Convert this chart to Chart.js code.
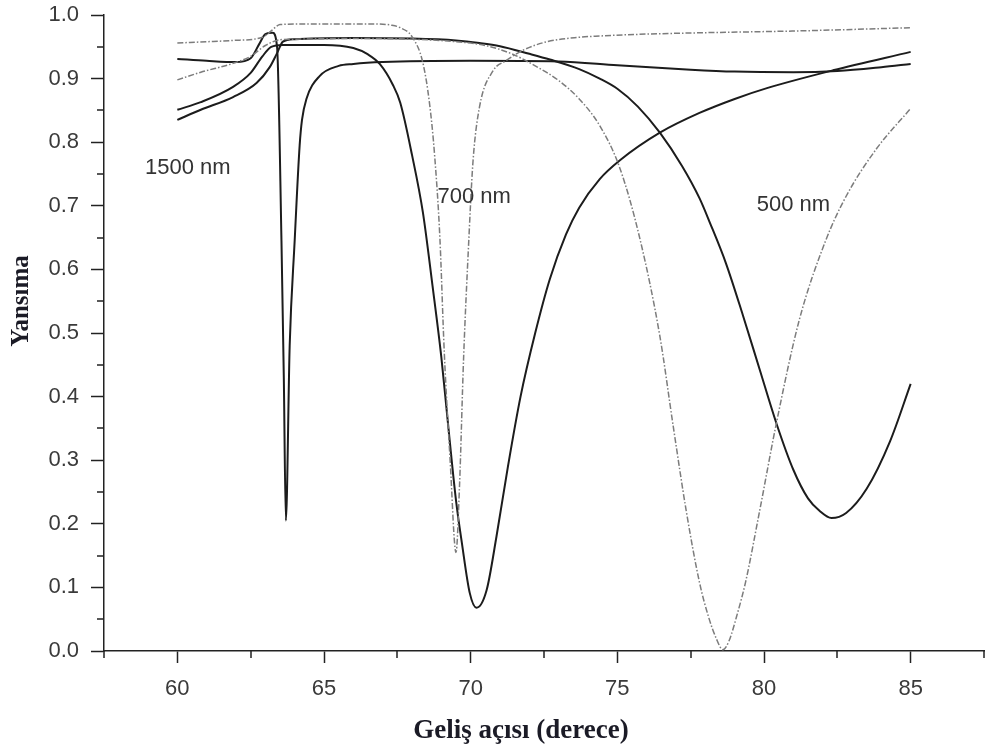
<!DOCTYPE html>
<html>
<head>
<meta charset="utf-8">
<script src="https://cdn.jsdelivr.net/npm/chart.js@4.4.1/dist/chart.umd.min.js"></script>
<style>
  html, body { margin: 0; padding: 0; background: #fff; }
  #wrap { width: 988px; height: 751px; }
</style>
</head>
<body>
<div id="wrap"><canvas id="reflChart" width="988" height="751"></canvas></div>
<script>
// Reflectance vs. angle of incidence

// solid curves
const s1500Angle = [60, 61, 62, 62.5, 62.8, 63.0, 63.25, 63.4, 63.55, 63.63, 63.7, 63.83, 64.0, 64.17, 64.25, 64.4, 64.85, 65.5, 66, 67, 70, 73, 75, 77.5, 79, 81, 82.5, 84, 85];
const s1500Refl  = [0.931, 0.928, 0.926, 0.932, 0.955, 0.970, 0.972, 0.950, 0.645, 0.430, 0.205, 0.480, 0.645, 0.795, 0.835, 0.868, 0.904, 0.920, 0.923, 0.926, 0.928, 0.927, 0.921, 0.914, 0.911, 0.910, 0.912, 0.918, 0.923];

const s700Angle = [60, 60.8, 61.9, 62.5, 62.9, 63.2, 63.6, 65, 66, 66.5, 66.9, 67.35, 67.6, 68.0, 68.37, 68.7, 69.0, 69.2, 69.5, 69.7, 69.97, 70.2, 70.54, 70.88, 71.27, 71.7, 72.2, 72.7, 73.25, 73.7, 74.4, 75.1, 76.45, 77.8, 79.0, 80.1, 82.35, 85];
const s700Refl  = [0.851, 0.863, 0.887, 0.909, 0.935, 0.950, 0.953, 0.953, 0.948, 0.938, 0.923, 0.890, 0.862, 0.780, 0.690, 0.574, 0.462, 0.370, 0.237, 0.170, 0.091, 0.068, 0.095, 0.180, 0.290, 0.400, 0.500, 0.585, 0.655, 0.697, 0.742, 0.772, 0.815, 0.846, 0.868, 0.885, 0.913, 0.942];

const s500Angle = [60, 60.8, 61.9, 62.7, 63.15, 63.4, 63.6, 64, 66, 68, 69.5, 70.3, 71, 72, 72.7, 73.7, 74.4, 75, 75.7, 76.45, 77.2, 77.8, 78.15, 78.7, 79.28, 79.85, 80.43, 81.0, 81.5, 81.9, 82.3, 82.8, 83.5, 84.3, 85];
const s500Refl  = [0.835, 0.851, 0.871, 0.893, 0.918, 0.940, 0.958, 0.962, 0.964, 0.963, 0.960, 0.956, 0.951, 0.939, 0.930, 0.915, 0.900, 0.884, 0.856, 0.815, 0.763, 0.712, 0.674, 0.610, 0.528, 0.443, 0.357, 0.285, 0.240, 0.220, 0.209, 0.217, 0.255, 0.330, 0.420];

// dash-dot curves
const d700Angle = [60, 61, 61.9, 62.9, 63.2, 63.4, 63.5, 65, 66.7, 67.3, 67.6, 68.0, 68.37, 68.6, 68.77, 68.95, 69.1, 69.3, 69.5, 69.62, 69.76, 69.92, 70.08, 70.3, 70.76, 71.2, 71.8, 72.6, 73.7, 74.4, 76, 77.8, 81.2, 85];
const d700Refl  = [0.956, 0.958, 0.960, 0.965, 0.975, 0.983, 0.985, 0.986, 0.986, 0.984, 0.980, 0.966, 0.925, 0.860, 0.780, 0.650, 0.470, 0.300, 0.155, 0.260, 0.462, 0.630, 0.770, 0.855, 0.912, 0.928, 0.945, 0.958, 0.965, 0.967, 0.970, 0.972, 0.975, 0.980];

const d500Angle = [60, 60.8, 61.9, 62.5, 63, 63.5, 64, 66, 68, 69.5, 70.5, 71.4, 72.2, 73.0, 73.7, 74.4, 75.08, 75.76, 76.45, 76.9, 77.35, 77.8, 78.1, 78.37, 78.6, 78.8, 79.1, 79.37, 79.85, 80.43, 81.2, 82.1, 82.8, 83.84, 85];
const d500Refl  = [0.898, 0.910, 0.924, 0.935, 0.952, 0.961, 0.962, 0.963, 0.962, 0.958, 0.952, 0.939, 0.920, 0.897, 0.868, 0.826, 0.760, 0.650, 0.495, 0.355, 0.220, 0.108, 0.055, 0.020, 0.002, 0.015, 0.060, 0.108, 0.220, 0.360, 0.520, 0.645, 0.715, 0.790, 0.853];

// ticks
const xMajorTicks = [60, 65, 70, 75, 80, 85];
const xMinorTicks = [57.5, 62.5, 67.5, 72.5, 77.5, 82.5, 87.5];
const yMajorTicks = [0, 0.1, 0.2, 0.3, 0.4, 0.5, 0.6, 0.7, 0.8, 0.9, 1.0];
const yMinorTicks = [0.05, 0.15, 0.25, 0.35, 0.45, 0.55, 0.65, 0.75, 0.85, 0.95];

// curve annotations (text, anchor angle, anchor reflectance)
const curveLabels = ['1500 nm', '700 nm', '500 nm'];
const labelAngle  = [58.9, 68.87, 79.75];
const labelRefl   = [0.759, 0.714, 0.701];

const xTitle = 'Geliş açısı (derece)';
const yTitle = 'Yansıma';

const toPoints = (a, r) => a.map((v, i) => ({ x: v, y: r[i] }));

const solid = '#1c1c1c';
const dashed = '#7c7c7c';
const axisColor = '#222';
const sansFont = '"Liberation Sans", Arial, sans-serif';
const serifFont = '"Liberation Serif", "Times New Roman", serif';

// minor ticks, curve labels and axis titles
const extras = {
    id: 'extras',
    afterDraw(chart) {
        const { ctx, chartArea } = chart;
        const x = chart.scales.x, y = chart.scales.y;
        ctx.save();
        ctx.strokeStyle = axisColor;
        ctx.lineWidth = 1.5;
        ctx.beginPath();
        xMinorTicks.forEach(v => {
            const px = Math.round(x.getPixelForValue(v));
            ctx.moveTo(px, chartArea.bottom);
            ctx.lineTo(px, chartArea.bottom + 7);
        });
        yMinorTicks.forEach(v => {
            const py = Math.round(y.getPixelForValue(v));
            ctx.moveTo(chartArea.left, py);
            ctx.lineTo(chartArea.left - 7, py);
        });
        ctx.stroke();

        ctx.fillStyle = '#333';
        ctx.font = '22px ' + sansFont;
        ctx.textAlign = 'left';
        ctx.textBaseline = 'middle';
        curveLabels.forEach((t, i) => {
            ctx.fillText(t, x.getPixelForValue(labelAngle[i]), y.getPixelForValue(labelRefl[i]));
        });

        ctx.fillStyle = '#1b1b26';
        ctx.font = 'bold 27px ' + serifFont;
        ctx.textAlign = 'center';
        ctx.fillText(xTitle, 521, 731);

        ctx.font = 'bold 25px ' + serifFont;
        ctx.translate(22, 301);
        ctx.rotate(-Math.PI / 2);
        ctx.fillText(yTitle, 0, 0);
        ctx.restore();
    }
};

const lineSet = (a, r, color, width, dash) => ({
    data: toPoints(a, r),
    borderColor: color,
    borderWidth: width,
    borderDash: dash,
    pointRadius: 0,
    cubicInterpolationMode: 'monotone',
    fill: false
});

new Chart(document.getElementById('reflChart'), {
    type: 'line',
    data: {
        datasets: [
            lineSet(d700Angle, d700Refl, dashed, 1.5, [6, 2, 1.5, 2]),
            lineSet(d500Angle, d500Refl, dashed, 1.5, [6, 2, 1.5, 2]),
            lineSet(s1500Angle, s1500Refl, solid, 2, []),
            lineSet(s700Angle, s700Refl, solid, 2, []),
            lineSet(s500Angle, s500Refl, solid, 2, [])
        ]
    },
    options: {
        responsive: false,
        animation: false,
        layout: { padding: { top: 15, right: 4, left: 0, bottom: 0 } },
        plugins: { legend: { display: false }, tooltip: { enabled: false } },
        scales: {
            x: {
                type: 'linear',
                min: 57.5,
                max: 87.5,
                afterBuildTicks: s => { s.ticks = xMajorTicks.map(v => ({ value: v })); },
                afterFit: s => { s.height = 100; s.paddingLeft = 0; s.paddingRight = 0; },
                grid: { drawOnChartArea: false, tickLength: 12, tickColor: axisColor, tickWidth: 1.5 },
                border: { display: true, color: axisColor, width: 1.5 },
                ticks: {
                    color: '#3a3a3a',
                    font: { family: sansFont, size: 22 },
                    padding: 13,
                    maxRotation: 0,
                    autoSkip: false,
                    callback: v => String(v)
                }
            },
            y: {
                type: 'linear',
                min: 0,
                max: 1,
                afterBuildTicks: s => { s.ticks = yMajorTicks.map(v => ({ value: v })); },
                afterFit: s => { s.width = 104; s.paddingTop = 0; s.paddingBottom = 0; },
                grid: { drawOnChartArea: false, tickLength: 13, tickColor: axisColor, tickWidth: 1.5 },
                border: { display: true, color: axisColor, width: 1.5 },
                ticks: {
                    color: '#3a3a3a',
                    font: { family: sansFont, size: 22 },
                    padding: 12,
                    autoSkip: false,
                    callback: v => v.toFixed(1)
                }
            }
        }
    },
    plugins: [extras]
});
</script>
</body>
</html>
